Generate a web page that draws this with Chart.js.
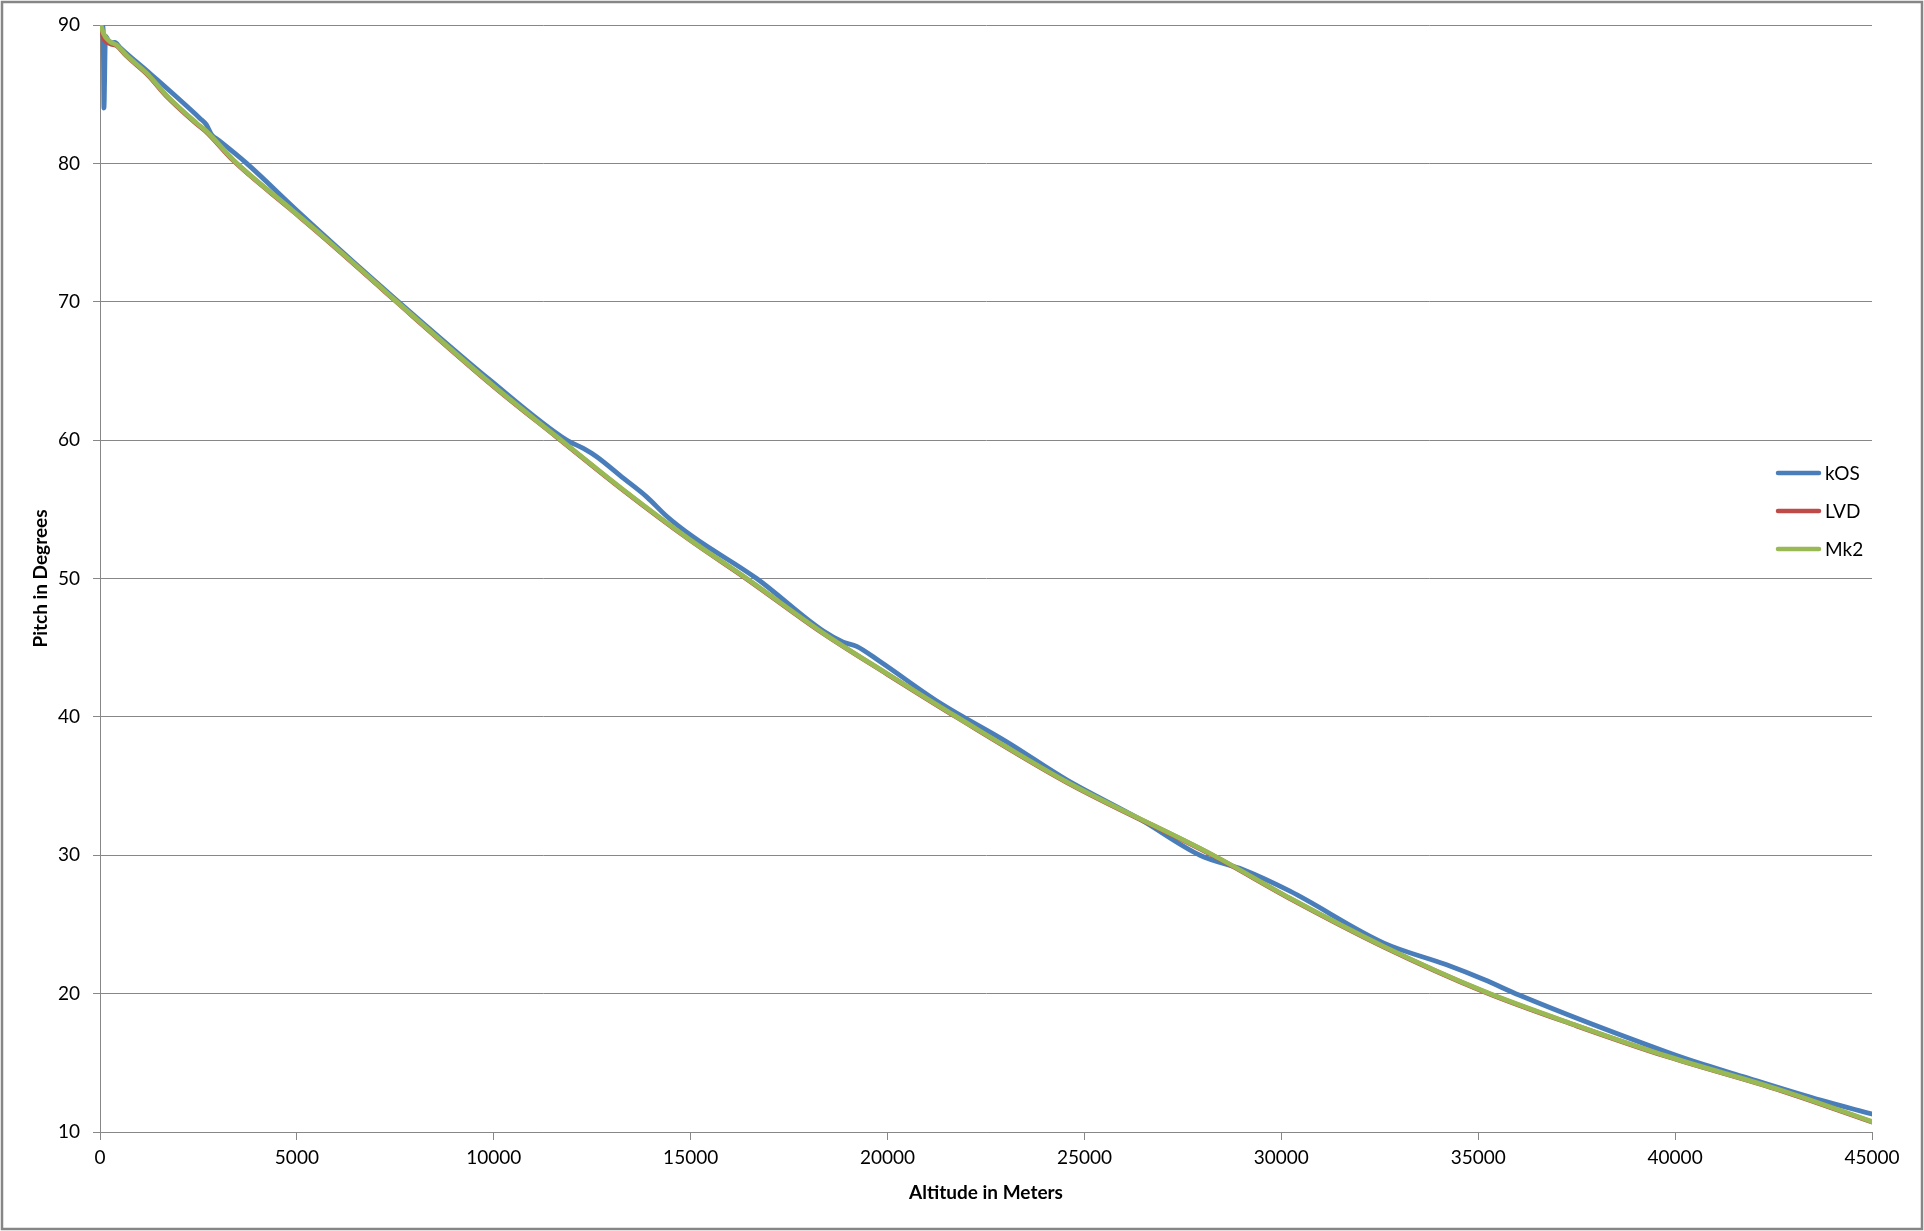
<!DOCTYPE html>
<html>
<head>
<meta charset="utf-8">
<title>Pitch vs Altitude</title>
<script src="https://cdn.jsdelivr.net/npm/chart.js@4/dist/chart.umd.min.js"></script>
<style>
  body { margin: 0; background: #fff; }
  #wrap { width: 1924px; height: 1231px; }
</style>
</head>
<body>
<div id="wrap"><canvas id="myChart" width="1924" height="1231"></canvas></div>
<script>
// Series labels + colors
var seriesNames = ["kOS", "LVD", "Mk2"];
var seriesColors = ["#4A7EBB", "#BE4B48", "#98B954"];

// kOS (altitude in m, pitch in degrees)
var kosAlt = [60, 80, 100, 140, 250, 380, 500, 1270, 2540, 2700, 2840, 3000, 3725, 5000, 6940, 7580, 9900, 11850, 12275, 12614, 13290, 13883, 14391, 15068, 16676, 18369, 18877, 19216, 19808, 21332, 23025, 24549, 26411, 27934, 29035, 30220, 32606, 34181, 35161, 36035, 39770, 40751, 41723, 43692, 45000];
var kosPitch = [90, 89.7, 84, 89.2, 88.7, 88.75, 88.4, 86.5, 83.25, 82.8, 82.05, 81.7, 80.0, 76.6, 71.6, 70.0, 64.35, 60.0, 59.4, 58.8, 57.25, 55.9, 54.5, 53.0, 50.0, 46.2, 45.4, 45.1, 44.0, 41.0, 38.2, 35.45, 32.6, 30.0, 28.95, 27.4, 23.65, 22.1, 21.0, 19.9, 15.8, 14.85, 14.0, 12.3, 11.3];

// LVD
var lvdAlt = [25, 85, 254, 423, 677, 1227, 1693, 2455, 2709, 3386, 4825, 5671, 7026, 7576, 10000, 11598, 13290, 14983, 16422, 18369, 20000, 21756, 24549, 28273, 30220, 32606, 35161, 37500, 39770, 42710, 45000];
var lvdPitch = [90, 89.1, 88.65, 88.5, 87.75, 86.35, 84.85, 82.85, 82.25, 80.2, 76.72, 74.67, 71.27, 69.87, 63.87, 60.22, 56.37, 52.77, 49.97, 46.02, 43.07, 39.97, 35.27, 29.97, 26.87, 23.37, 20.12, 17.67, 15.47, 12.97, 10.72];

// Mk2
var mk2Alt = [25, 85, 254, 423, 677, 1227, 1693, 2455, 2709, 3386, 4825, 5671, 7026, 7576, 10000, 11598, 13290, 14983, 16422, 18369, 20000, 21756, 24549, 28273, 30220, 32606, 35161, 37500, 39770, 42710, 45000];
var mk2Pitch = [90, 89.4, 88.8, 88.55, 87.8, 86.4, 84.9, 82.9, 82.3, 80.25, 76.75, 74.7, 71.3, 69.9, 63.9, 60.25, 56.4, 52.8, 50.0, 46.05, 43.1, 40.0, 35.3, 30.0, 26.9, 23.4, 20.15, 17.7, 15.5, 13.0, 10.75];

// axis ranges
var xMin = 0, xMax = 45000, xStep = 5000;
var yMin = 10, yMax = 90, yStep = 10;

var FONT = "Lato, Calibri, 'Open Sans', sans-serif";
var GRID = "#878787";

function toPoints(xs, ys){
    var pts = [];
    for (var i = 0; i < xs.length; i++){ pts.push({x: xs[i], y: ys[i]}); }
    return pts;
}

function makeSet(i, xs, ys){
    return {
        label: seriesNames[i],
        data: toPoints(xs, ys),
        borderColor: seriesColors[i],
        backgroundColor: seriesColors[i],
        borderWidth: 4.8,
        pointRadius: 0,
        cubicInterpolationMode: 'monotone',
        borderCapStyle: 'round',
        borderJoinStyle: 'round',
        fill: false,
        order: 3 - i   // Mk2 drawn last (on top)
    };
}

// white bg + outer frame
var framePlugin = {
    id: 'frame',
    beforeDraw: function(chart){
        var ctx = chart.ctx;
        ctx.save();
        ctx.fillStyle = "#fff";
        ctx.fillRect(0, 0, chart.width, chart.height);
        ctx.strokeStyle = "#868686";
        ctx.lineWidth = 2.5;
        ctx.strokeRect(2, 2, chart.width - 4, chart.height - 4);
        ctx.restore();
    }
};

// Excel-style legend sitting inside the plot on the right
var legendPlugin = {
    id: 'sideLegend',
    afterDraw: function(chart){
        var ctx = chart.ctx;
        var lx = 1778, ly = 473, gap = 38;
        ctx.save();
        ctx.font = "19px " + FONT;
        ctx.textBaseline = "middle";
        ctx.textAlign = "left";
        chart.data.datasets.forEach(function(ds, i){
            var y = ly + i * gap;
            ctx.strokeStyle = ds.borderColor;
            ctx.lineWidth = 4.5;
            ctx.lineCap = "round";
            ctx.beginPath();
            ctx.moveTo(lx, y);
            ctx.lineTo(lx + 41, y);
            ctx.stroke();
            ctx.fillStyle = "#000";
            ctx.fillText(ds.label, lx + 47, y + 1);
        });
        ctx.restore();
    }
};

new Chart("myChart", {
    type: "line",
    data: {
        datasets: [
            makeSet(0, kosAlt, kosPitch),
            makeSet(1, lvdAlt, lvdPitch),
            makeSet(2, mk2Alt, mk2Pitch)
        ]
    },
    options: {
        responsive: false,
        animation: false,
        devicePixelRatio: 1,
        layout: { padding: { top: 25, right: 52, bottom: 0, left: 0 } },
        plugins: {
            legend: { display: false },
            tooltip: { enabled: false },
            title: { display: false }
        },
        scales: {
            x: {
                type: 'linear',
                min: xMin, max: xMax,
                afterFit: function(s){ s.height = 99; },
                ticks: {
                    stepSize: xStep, color: "#000", font: { family: FONT, size: 19 }, padding: 6, maxRotation: 0,
                    callback: function(v){ return String(v); }   // no thousands separator
                },
                grid: { drawOnChartArea: false, drawTicks: true, tickLength: 8, color: GRID, lineWidth: 1 },
                border: { display: true, color: GRID, width: 1 },
                title: { display: true, text: "Altitude in Meters", color: "#000", font: { family: FONT, size: 19, weight: 'bold' }, padding: { top: 0, bottom: 27 } }
            },
            y: {
                type: 'linear',
                min: yMin, max: yMax,
                afterFit: function(s){ s.width = 100; },
                ticks: { stepSize: yStep, color: "#000", font: { family: FONT, size: 19 }, padding: 13 },
                grid: { drawOnChartArea: true, drawTicks: true, tickLength: 7, color: GRID, lineWidth: 1 },
                border: { display: true, color: GRID, width: 1 },
                title: { display: true, text: "Pitch in Degrees", color: "#000", font: { family: FONT, size: 19, weight: 'bold' }, padding: { top: 29, bottom: 0 } }
            }
        }
    },
    plugins: [framePlugin, legendPlugin]
});
</script>
</body>
</html>
